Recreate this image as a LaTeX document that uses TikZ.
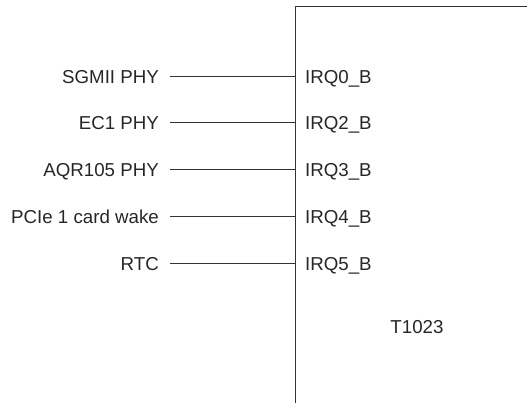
\documentclass[tikz,border=0pt]{standalone}
\usepackage{fontspec}
\setmainfont{Liberation Sans}
\begin{document}
\begin{tikzpicture}[x=1pt,y=1pt,
  txt/.style={inner sep=0pt, text height=13.5pt, text depth=0pt, text=black!85, font=\fontsize{18.7}{21}\selectfont},
  src/.style={txt, anchor=east},
  pin/.style={txt, anchor=west},
  wire/.style={line width=1pt, draw=black!80},
]
\useasboundingbox (0,0) rectangle (527,403);
% chip outline (open)
\coordinate (tr) at (527,396);
\coordinate (tl) at (295,396);
\coordinate (bl) at (295,0);
\draw[wire] (tr) -- (tl) -- (bl);
\node[txt, anchor=center] (chip) at (417,76) {T1023};
% signals
\foreach \i/\s/\p/\y in {0/SGMII PHY/IRQ0\_B/326, 1/EC1 PHY/IRQ2\_B/280, 2/AQR105 PHY/IRQ3\_B/233, 3/PCIe 1 card wake/IRQ4\_B/186, 4/RTC/IRQ5\_B/139}{
  \node[src] (s\i) at (159,\y) {\s};
  \coordinate (e\i) at (295,\y);
  \node[pin] (p\i) at (305,\y) {\p};
  \draw[wire, shorten <=11pt] (s\i.east) -- (e\i);
}
\end{tikzpicture}
\end{document}
